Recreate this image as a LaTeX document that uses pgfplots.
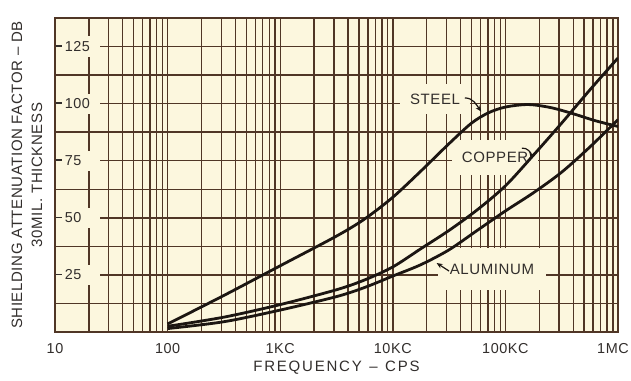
\documentclass[border=0pt]{standalone}
\usepackage{fontspec}
\setmainfont{Liberation Sans}
\newfontfamily\lett[LetterSpace=4]{Liberation Sans}
\newfontfamily\lettw[LetterSpace=12]{Liberation Sans}
\usepackage{pgfplots}
\pgfplotsset{compat=1.18}
\usetikzlibrary{arrows.meta}

\definecolor{paper}{RGB}{252,247,222}
\definecolor{gridbrown}{RGB}{80,54,38}
\definecolor{ink}{RGB}{28,22,18}
\definecolor{txt}{RGB}{50,46,44}

\newcommand{\lab}{\lett\fontsize{7.5}{9}\selectfont}

\begin{document}
\begin{tikzpicture}
\path[use as bounding box, fill=white] (-27.5pt,-24pt) rectangle (288pt,166pt);
\begin{axis}[
  at={(0,0)}, anchor=south west,
  width=281.5pt, height=157pt, scale only axis,
  xmode=log, xmin=10, xmax=1000000, ymin=0, ymax=137.5,
  axis background/.style={fill=paper},
  axis line style={gridbrown, line width=0.9pt},
  xtick={10,100,1000,10000,100000,1000000},
  xticklabels={10,100,1KC,10KC,100KC,{\hspace*{-5pt}1MC}},
  minor xtick={20,30,40,50,60,70,80,90,
    200,300,400,500,600,700,800,900,
    2000,3000,4000,5000,6000,7000,8000,9000,
    20000,30000,40000,50000,60000,70000,80000,90000,
    200000,300000,400000,500000,600000,700000,800000,900000},
  ytick={25,50,75,100,125},
  minor ytick={12.5,37.5,62.5,87.5,112.5},
  grid=both,
  major grid style={gridbrown, line width=0.7pt},
  minor grid style={gridbrown, line width=0.7pt},
  major tick length=0pt, minor tick length=0pt,
  /pgf/number format/assume math mode=true,
  tick label style={font=\lett\fontsize{7.2}{9}\selectfont, text=txt},
  xticklabel style={anchor=center, yshift=-8.5pt},
  yticklabel style={anchor=west, xshift=0.5pt, fill=paper, inner xsep=0pt,
    inner ysep=2.5pt, text width=22pt, align=left},
  yticklabel={\rule[2.4pt]{3pt}{0.7pt}\,\pgfmathprintnumber{\tick}},
  xlabel={FREQUENCY\enspace–\enspace CPS},
  xlabel style={at={(axis description cs:0.5,0)}, anchor=center, yshift=-18pt,
    font=\lettw\fontsize{7.5}{9}\selectfont, text=txt},
  ylabel={SHIELDING ATTENUATION FACTOR – DB\\30MIL. THICKNESS},
  ylabel style={at={(axis description cs:-0.05,0.5)}, anchor=center, align=center,
    font=\lett\fontsize{7.5}{10}\selectfont, text=txt},
]
% blank patches of the grid behind the curve names
\node[fill=paper, inner xsep=5pt, inner ysep=5pt, font=\lab, text=txt] at (axis cs:23700,102) {STEEL};
\node[fill=paper, inner xsep=5pt, inner ysep=6pt, font=\lab, text=txt] at (axis cs:81000,76.3) {COPPER};
\node[fill=paper, inner xsep=6pt, inner ysep=8pt, font=\lab, text=txt] at (axis cs:76000,27.6) {ALUMINUM};

% steel
\addplot[ink, line width=1.4pt, smooth] coordinates {
  (100,3.5) (316,16) (1000,29) (3162,42) (5623,49.5) (10000,59) (17783,70.5)
  (31623,82.5) (50119,91.5) (70795,96) (100000,98.5) (158489,99.6)
  (251189,98.3) (398107,95.6) (630957,92.5) (1000000,90)};
% copper
\addplot[ink, line width=1.4pt, smooth] coordinates {
  (100,2.5) (316,6.5) (1000,12) (3162,18.5) (5623,22.8) (10000,28.5)
  (17783,36.5) (31623,44.5) (56234,53.5) (100000,64) (177828,77.5)
  (316228,91.5) (562341,106) (1000000,120)};
% aluminum
\addplot[ink, line width=1.4pt, smooth] coordinates {
  (100,1.5) (316,4.5) (1000,9.6) (3162,15.5) (5623,19.5) (10000,24.5)
  (17783,29.5) (31623,36) (56234,44.5) (100000,53) (177828,61)
  (316228,70) (562341,81) (1000000,93)};

\draw[ink, line width=0.6pt, -{Stealth[length=3pt,width=2.5pt]}]
  (axis cs:43600,102.5) to[out=0, in=125] (axis cs:61000,96.5);
\draw[ink, line width=0.6pt, -{Stealth[length=3pt,width=2.5pt]}]
  (axis cs:140000,80.5) to[out=10, in=80] (axis cs:168000,76);
\draw[ink, line width=0.6pt, -{Stealth[length=3pt,width=2.5pt]}]
  (axis cs:31600,26.7) -- (axis cs:24500,30.2);
\end{axis}
\end{tikzpicture}
\end{document}
